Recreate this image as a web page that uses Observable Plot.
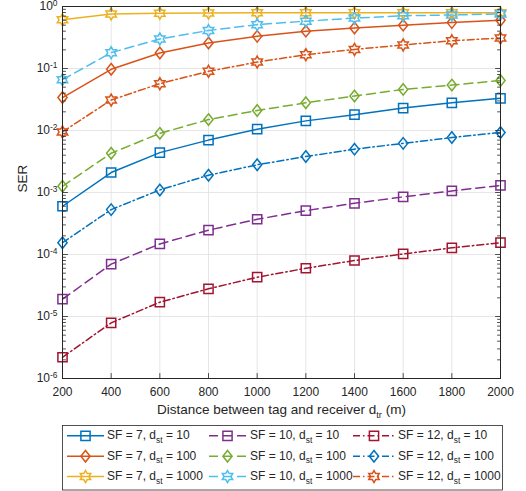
<!DOCTYPE html>
<html><head><meta charset="utf-8">
<script src="https://cdn.jsdelivr.net/npm/d3@7"></script>
<script src="https://cdn.jsdelivr.net/npm/@observablehq/plot@0.6"></script>
<style>
body{margin:0;background:#fff;}
#chart{width:526px;height:491px;position:relative;font-family:"Liberation Sans",Arial,Helvetica,sans-serif;color:#262626;}
#chart svg{display:block;overflow:visible;}
</style></head><body><div id="chart"></div>
<script>
// ---- data ----
const distances = [200, 400, 600, 800, 1000, 1200, 1400, 1600, 1800, 2000];
const sf7_d10    = [6.0e-4, 2.1e-3, 4.4e-3, 7.0e-3, 1.05e-2, 1.43e-2, 1.8e-2, 2.3e-2, 2.8e-2, 3.3e-2];
const sf7_d100   = [0.034, 0.097, 0.178, 0.257, 0.33, 0.40, 0.45, 0.50, 0.55, 0.60];
const sf7_d1000  = [0.61, 0.76, 0.78, 0.785, 0.79, 0.79, 0.79, 0.79, 0.79, 0.79];
const sf10_d10   = [1.9e-5, 7.0e-5, 1.48e-4, 2.47e-4, 3.7e-4, 5.1e-4, 6.7e-4, 8.5e-4, 1.06e-3, 1.3e-3];
const sf10_d100  = [1.26e-3, 4.3e-3, 9.0e-3, 1.5e-2, 2.1e-2, 2.8e-2, 3.6e-2, 4.6e-2, 5.4e-2, 6.4e-2];
const sf10_d1000 = [0.066, 0.18, 0.30, 0.41, 0.51, 0.58, 0.65, 0.71, 0.73, 0.76];
const sf12_d10   = [2.2e-6, 7.9e-6, 1.7e-5, 2.8e-5, 4.3e-5, 6.0e-5, 8.0e-5, 1.02e-4, 1.28e-4, 1.55e-4];
const sf12_d100  = [1.55e-4, 5.3e-4, 1.1e-3, 1.9e-3, 2.8e-3, 3.8e-3, 5.0e-3, 6.2e-3, 7.7e-3, 9.3e-3];
const sf12_d1000 = [9.5e-3, 0.031, 0.057, 0.09, 0.127, 0.167, 0.203, 0.24, 0.28, 0.31];
const seriesLabels = [
  "SF = 7, d_{st} = 10", "SF = 7, d_{st} = 100", "SF = 7, d_{st} = 1000",
  "SF = 10, d_{st} = 10", "SF = 10, d_{st} = 100", "SF = 10, d_{st} = 1000",
  "SF = 12, d_{st} = 10", "SF = 12, d_{st} = 100", "SF = 12, d_{st} = 1000"
];
const seriesValues = [sf7_d10, sf7_d100, sf7_d1000, sf10_d10, sf10_d100, sf10_d1000, sf12_d10, sf12_d100, sf12_d1000];
const xTicks = [200, 400, 600, 800, 1000, 1200, 1400, 1600, 1800, 2000];
const yTicks = [1e-6, 1e-5, 1e-4, 1e-3, 1e-2, 1e-1, 1];
const xLabel = "Distance between tag and receiver d_{tr} (m)";
const yLabel = "SER";

// ---- styles ----
const colors = ["#0072BD","#D95319","#EDB120","#7E2F8E","#77AC30","#4DBEEE","#A2142F","#0072BD","#D95319"];
const dashes = [null, "9,5", "7,3,1.5,3"];
const symSquare = {draw(c, size){const r = Math.sqrt(size/Math.PI); c.rect(-r,-r,2*r,2*r);}};
const symDiamond = {draw(c, size){const r = Math.sqrt(size/Math.PI); c.moveTo(0,-1.25*r); c.lineTo(r,0); c.lineTo(0,1.25*r); c.lineTo(-r,0); c.closePath();}};
const symHexagram = {draw(c, size){const R = Math.sqrt(size/Math.PI), ri = R/Math.sqrt(3);
  for(let i=0;i<12;i++){const a = -Math.PI/2 + i*Math.PI/6; const rr = i%2 ? ri : R; const x = rr*Math.cos(a), y = rr*Math.sin(a); i ? c.lineTo(x,y) : c.moveTo(x,y);} c.closePath();}};
const symbols = [symSquare, symDiamond, symHexagram];
const symR = [4.6, 4.6, 6.0];
const styleOf = i => ({color: colors[i], dash: dashes[Math.floor(i/3)], symbol: symbols[i%3], r: symR[i%3]});

const yMinor = [];
for (let e = -6; e < 0; e++) for (let k = 2; k <= 9; k++) yMinor.push(k*Math.pow(10,e));
const tickShape = {draw(c, l){c.moveTo(0,0); c.lineTo(0,-l);}};
const ink = "#262626";

const marks = [
  Plot.gridX(xTicks, {stroke: "#dfdfdf", strokeOpacity: 1, strokeWidth: 0.8}),
  Plot.gridY(yTicks, {stroke: "#dfdfdf", strokeOpacity: 1, strokeWidth: 0.8}),
  Plot.axisX({ticks: xTicks, tickSize: 0, tickPadding: 9, tickFormat: d => String(d), label: null}),
  Plot.axisY({ticks: yTicks, tickSize: 0, tickPadding: 5, tickFormat: d => "10^{" + Math.round(Math.log10(d)) + "}", label: null}),
  Plot.text([xLabel], {frameAnchor: "bottom", dy: 35.7, text: d => d, fontSize: 13.5, fill: ink}),
  Plot.text([yLabel], {frameAnchor: "left", dx: -40.3, rotate: -90, text: d => d, fontSize: 13.5, fill: ink}),
];
seriesValues.forEach((vals, i) => {
  const s = styleOf(i);
  const rows = distances.map((d, j) => ({x: d, y: vals[j]}));
  marks.push(Plot.line(rows, {x: "x", y: "y", stroke: s.color, strokeWidth: 1.5, strokeDasharray: s.dash}));
  marks.push(Plot.dot(rows, {x: "x", y: "y", symbol: s.symbol, r: s.r, stroke: s.color, fill: "none", strokeWidth: 1.5}));
});
const tk = (data, o) => Plot.vector(data, {shape: tickShape, anchor: "start", stroke: ink, strokeWidth: 0.8, ...o});
marks.push(
  tk(yTicks.slice(1,-1), {x: 200, y: d => d, length: 5, rotate: 90}),
  tk(yTicks.slice(1,-1), {x: 2000, y: d => d, length: 5, rotate: -90}),
  tk(yMinor, {x: 200, y: d => d, length: 3, rotate: 90}),
  tk(yMinor, {x: 2000, y: d => d, length: 3, rotate: -90}),
  tk(xTicks.slice(1,-1), {x: d => d, y: 1e-6, length: 5, rotate: 0}),
  tk(xTicks.slice(1,-1), {x: d => d, y: 1, length: 5, rotate: 180}),
  Plot.frame({stroke: ink, strokeWidth: 1})
);

const chart = Plot.plot({
  width: 526, height: 420,
  marginTop: 6, marginBottom: 42, marginLeft: 62, marginRight: 26,
  style: {fontSize: "12px", fontFamily: '"Liberation Sans", Arial, Helvetica, sans-serif', color: ink, background: "#fff", overflow: "visible"},
  x: {domain: [200, 2000]},
  y: {type: "log", domain: [1e-6, 1]},
  marks
});

// rich text: ^{..} superscript, _{..} subscript
function setRich(el, s, base) {
  while (el.firstChild) el.removeChild(el.firstChild);
  const re = /([_^])\{([^}]*)\}/g; let last = 0, m, off = 0;
  const add = (txt, kind) => {
    const t = document.createElementNS("http://www.w3.org/2000/svg", "tspan");
    const target = kind === "^" ? -base*0.33 : kind === "_" ? base*0.3 : 0;
    t.setAttribute("dy", (target - off).toFixed(2));
    off = target;
    if (kind) t.setAttribute("font-size", (base*0.7).toFixed(1));
    t.textContent = txt; el.appendChild(t);
  };
  while ((m = re.exec(s))) { if (m.index > last) add(s.slice(last, m.index), null); add(m[2], m[1]); last = re.lastIndex; }
  if (last < s.length) add(s.slice(last), null);
}
chart.querySelectorAll("text").forEach(el => {
  const s = el.textContent;
  if (/[_^]\{/.test(s)) setRich(el, s, s.startsWith("Distance") ? 13.5 : 12);
});

const root = document.getElementById("chart");
root.appendChild(chart);

// ---- legend ----
const lg = d3.create("svg").attr("width", 526).attr("height", 71)
  .style("font-family", '"Liberation Sans", Arial, Helvetica, sans-serif').style("font-size", "12px");
lg.append("rect").attr("x", 62.5).attr("y", 5.5).attr("width", 440).attr("height", 64.5)
  .attr("fill", "#fff").attr("stroke", ink).attr("stroke-width", 0.8);
const cols = [{x0: 67, x1: 104, tx: 107}, {x0: 209, x1: 246, tx: 250}, {x0: 353, x1: 395, tx: 398}];
seriesLabels.forEach((lab, i) => {
  const s = styleOf(i), c = cols[Math.floor(i/3)], y = 15.8 + (i%3)*20.4;
  lg.append("line").attr("x1", c.x0).attr("x2", c.x1).attr("y1", y).attr("y2", y)
    .attr("stroke", s.color).attr("stroke-width", 1.5).attr("stroke-dasharray", s.dash);
  lg.append("path").attr("d", d3.symbol(s.symbol, s.r*s.r*Math.PI)())
    .attr("transform", `translate(${(c.x0+c.x1)/2},${y})`)
    .attr("fill", "none").attr("stroke", s.color).attr("stroke-width", 1.5);
  const t = lg.append("text").attr("x", c.tx).attr("y", y + 3.5).attr("fill", ink);
  setRich(t.node(), lab, 12);
});
root.appendChild(lg.node());
</script></body></html>
